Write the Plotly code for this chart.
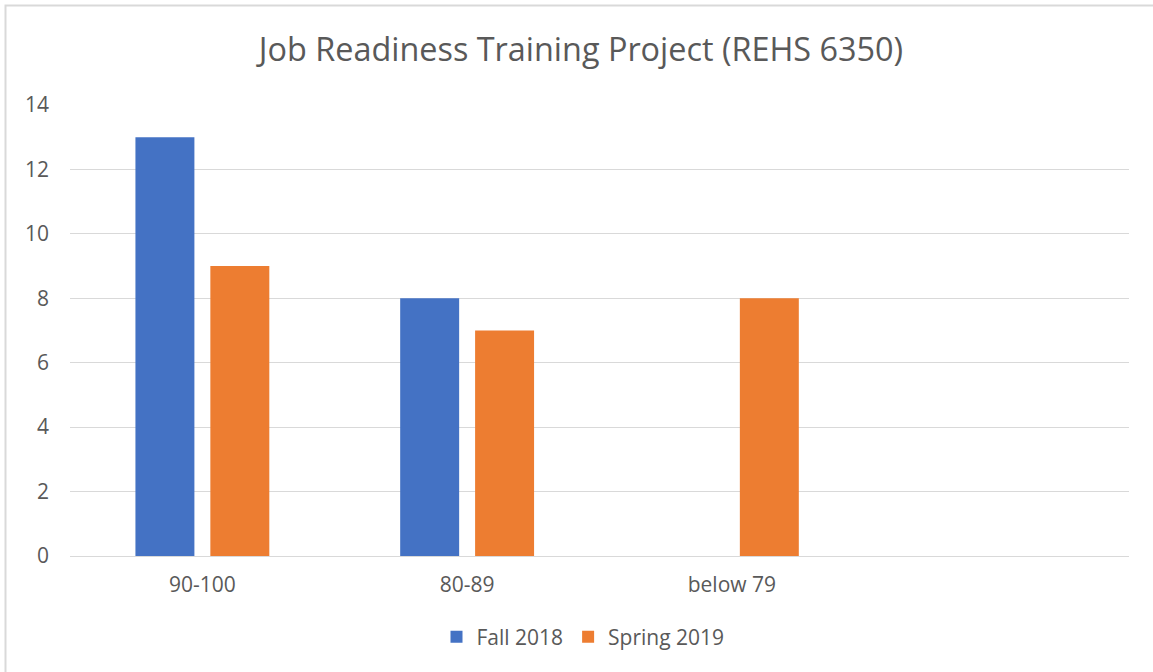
import plotly.graph_objects as go

categories = ["90-100", "80-89", "below 79", " "]
fall_2018 = [13, 8, None, None]
spring_2019 = [9, 7, 8, None]
y_ticks = [0, 2, 4, 6, 8, 10, 12, 14]

font_family = "Open Sans, Liberation Sans, sans-serif"
text_color = "#595959"
W, H = 1153, 672
L, R, T, B = 70, 24, 105, 116
pw, ph = W - L - R, H - T - B

fig = go.Figure()
fig.add_trace(go.Bar(name="Fall 2018", x=categories, y=fall_2018, marker_color="#4472C4", marker_line_width=0))
fig.add_trace(go.Bar(name="Spring 2019", x=categories, y=spring_2019, marker_color="#ED7D31", marker_line_width=0))

fig.update_layout(
    width=W, height=H,
    paper_bgcolor="white", plot_bgcolor="white",
    margin=dict(l=L, r=R, t=T, b=B),
    barmode="group", bargap=0.434, bargroupgap=0.213,
    title=dict(text="Job Readiness Training Project (REHS 6350)", x=581 / W, xref="container",
               xanchor="center", y=1 - 50 / H, yref="container", yanchor="middle",
               font=dict(family=font_family, size=32.4, color=text_color)),
    font=dict(family=font_family, color=text_color, size=21),
    legend=dict(orientation="h", x=583 / W, xref="container", xanchor="center",
                y=1 - 637 / H, yref="container", yanchor="middle",
                font=dict(size=21, color=text_color)),
    showlegend=True,
    shapes=[dict(type="rect", xref="paper", yref="paper",
                 x0=(5.5 - L) / pw, x1=1.2, y0=-0.5, y1=1 + (T - 5.5) / ph,
                 line=dict(color="#d9d9d9", width=2), fillcolor="rgba(0,0,0,0)", layer="below")],
)
fig.update_xaxes(showgrid=False, showline=False, ticks="", ticklabelstandoff=14,
                 tickfont=dict(size=21, color=text_color))
fig.update_yaxes(range=[0, 14], tickvals=y_ticks, showgrid=True, gridcolor="#d9d9d9", gridwidth=1.3,
                 zeroline=True, zerolinecolor="#d9d9d9", zerolinewidth=1.3, showline=False,
                 ticks="", ticklabelstandoff=20, tickfont=dict(size=21, color=text_color))

fig.write_html("out.html", config={"displayModeBar": False},
               post_script="document.body.style.margin='0';")
